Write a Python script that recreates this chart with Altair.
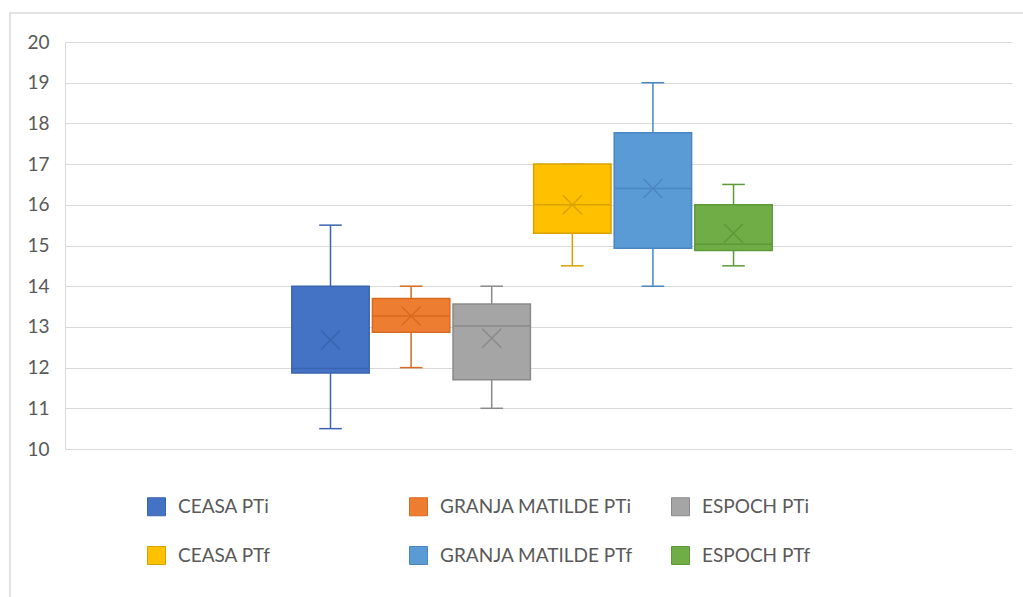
import altair as alt
import pandas as pd

series = ["CEASA PTi", "GRANJA MATILDE PTi", "ESPOCH PTi",
          "CEASA PTf", "GRANJA MATILDE PTf", "ESPOCH PTf"]
lows = [10.5, 12.0, 11.0, 14.5, 14.0, 14.5]
q1s = [11.87, 12.87, 11.70, 15.30, 14.93, 14.88]
medians = [11.98, 13.27, 13.02, 16.00, 16.40, 15.03]
q3s = [14.00, 13.70, 13.56, 17.00, 17.77, 16.00]
highs = [15.5, 14.0, 14.0, 17.0, 19.0, 16.5]
means = [12.68, 13.27, 12.72, 16.00, 16.40, 15.30]
y_ticks = [10, 11, 12, 13, 14, 15, 16, 17, 18, 19, 20]

fills = ["#4472C4", "#ED7D31", "#A5A5A5", "#FFC000", "#5B9BD5", "#70AD47"]
strokes = ["#3a64b0", "#d86a20", "#8a8a8a", "#d9a200", "#4a86c2", "#5c9a38"]

df = pd.DataFrame({
    "series": series, "low": lows, "q1": q1s, "median": medians,
    "q3": q3s, "high": highs, "mean": means, "idx": list(range(len(series))),
})

FONT = "Lato"
TXT = "#595959"
GRID = "#d9d9d9"

x_scale = alt.Scale(domain=[-3.294, 8.455], nice=False, zero=False)
y_scale = alt.Scale(domain=[10, 20], nice=False, zero=False)
fill_scale = alt.Scale(domain=series, range=fills)
stroke_scale = alt.Scale(domain=series, range=strokes)

y_axis = alt.Axis(values=y_ticks, grid=True, gridColor=GRID, gridWidth=1,
                  ticks=False, domainColor=GRID, labelFont=FONT,
                  labelFontSize=19, labelColor=TXT, labelPadding=16, title=None)

legend = alt.Legend(
    title=None, orient="none", legendX=82, legendY=455, columns=3,
    direction="horizontal", symbolType="square", symbolSize=324,
    symbolStrokeWidth=1, labelFont=FONT, labelFontSize=19,
    labelColor=TXT, labelOffset=12, rowPadding=26, columnPadding=36,
    gridAlign="all", labelLimit=400, padding=0)

base = alt.Chart(df).transform_calculate(
    left="datum.idx - 0.48", right="datum.idx + 0.48",
    capl="datum.idx - 0.14", capr="datum.idx + 0.14",
)

stroke_enc = alt.Stroke("series:N", scale=stroke_scale, sort=series, legend=legend)


def xq(field):
    return alt.X(field, type="quantitative", scale=x_scale, axis=None)


def yq(field):
    return alt.Y(field, type="quantitative", scale=y_scale, axis=y_axis)


whisker = base.mark_rule(strokeWidth=1.5).encode(
    x=xq("idx"), y=yq("low"), y2="high:Q", stroke=stroke_enc,
)
cap_low = base.mark_rule(strokeWidth=1.5).encode(
    x=xq("capl"), x2="capr:Q", y=yq("low"), stroke=stroke_enc,
)
cap_high = base.mark_rule(strokeWidth=1.5).encode(
    x=xq("capl"), x2="capr:Q", y=yq("high"), stroke=stroke_enc,
)
box = base.mark_bar(strokeWidth=1.5).encode(
    x=xq("left"), x2="right:Q", y=yq("q1"), y2="q3:Q",
    fill=alt.Fill("series:N", scale=fill_scale, sort=series, legend=legend),
    stroke=stroke_enc,
)
median = base.mark_rule(strokeWidth=1.5).encode(
    x=xq("left"), x2="right:Q", y=yq("median"), stroke=stroke_enc,
)
mean = base.mark_point(shape="M-1,-1L1,1M1,-1L-1,1", filled=False,
                       size=361, strokeWidth=1.5, opacity=1).encode(
    x=xq("idx"), y=yq("mean"), stroke=stroke_enc,
)

frame = alt.Chart(pd.DataFrame({"a": [0]})).mark_rect(
    fillOpacity=0, stroke=GRID, strokeWidth=1.5).encode(
    x=alt.value(-55), x2=alt.value(1100), y=alt.value(-29), y2=alt.value(700))

chart = alt.layer(whisker, cap_low, cap_high, box, median, mean, frame).properties(
    width=947, height=407,
    autosize=alt.AutoSizeParams(type="none"),
    padding={"left": 65, "top": 42, "right": 11, "bottom": 148},
    background="white",
).configure_view(stroke=None)

chart.save("out.html", embed_options={"renderer": "svg", "actions": False})
